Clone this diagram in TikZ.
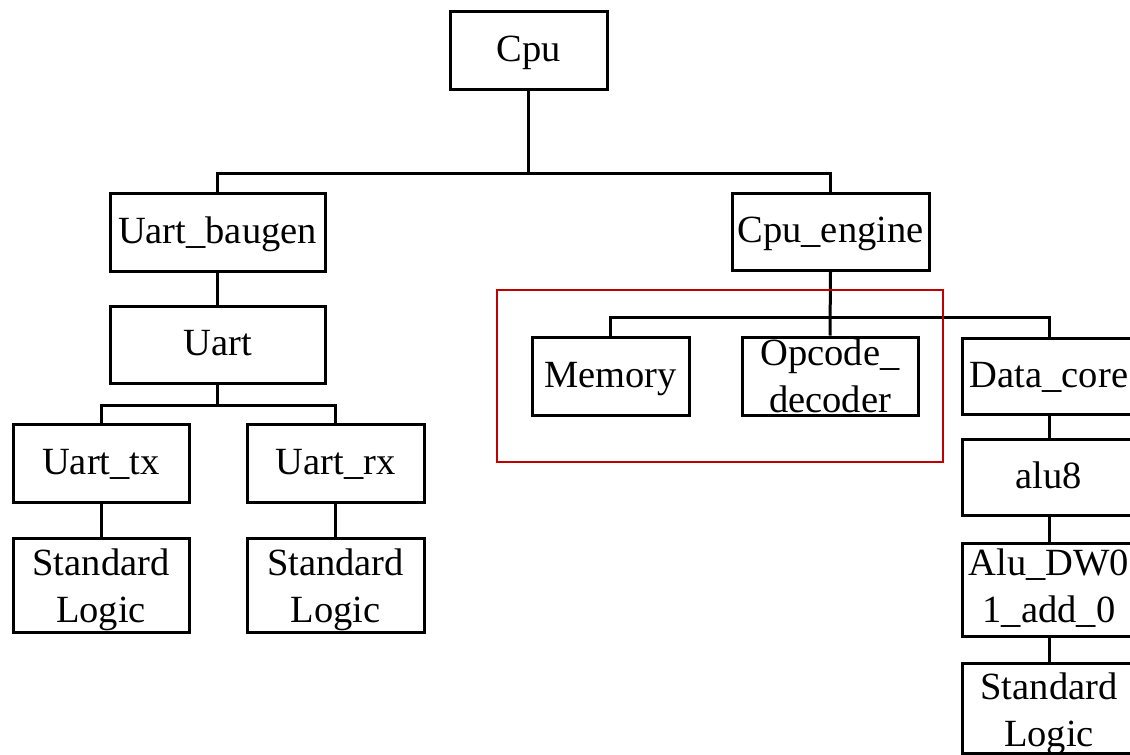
\documentclass[tikz,border=0pt]{standalone}
\usepackage{fontspec}
\setmainfont{Liberation Serif}
\definecolor{groupred}{RGB}{192,0,0}
\begin{document}
\begin{tikzpicture}[x=1pt,y=-1pt,
  blocktext/.style={inner sep=0pt,align=center,font=\fontsize{38.5}{47}\selectfont},
  block/.style={draw,line width=3pt,rectangle,blocktext,text height=26.5pt,text depth=3.9pt},
  twoline/.style 2 args={label={[blocktext,yshift=#2]center:#1}},
  link/.style={line width=3pt},
  groupframe/.style={draw=groupred,line width=2.5pt}]
\useasboundingbox (0,0) rectangle (1130,755);
\clip (0,0) rectangle (1130,755);

% hierarchy blocks
\node[block,minimum width=157pt,minimum height=78pt] (cpu) at (528.5,50) {Cpu};
\node[block,minimum width=215pt,minimum height=78pt] (baugen) at (217.5,232) {Uart\_baugen};
\node[block,minimum width=215pt,minimum height=77pt] (uart) at (217.5,344.5) {Uart};
\node[block,minimum width=176pt,minimum height=78pt] (tx) at (101,463) {Uart\_tx};
\node[block,minimum width=177pt,minimum height=78pt] (rx) at (335.5,463) {Uart\_rx};
\node[block,minimum width=176pt,minimum height=94pt,twoline={Standard\\Logic}{-4.5pt}] (sl1) at (101,585) {};
\node[block,minimum width=177pt,minimum height=94pt,twoline={Standard\\Logic}{-4.5pt}] (sl2) at (335.5,585) {};
\node[block,minimum width=197pt,minimum height=77pt] (engine) at (830.5,231.5) {Cpu\_engine};
\node[block,minimum width=157pt,minimum height=78pt] (memory) at (610.5,376) {Memory};
\node[block,minimum width=176pt,minimum height=78pt,twoline={Opcode\_\\decoder}{0.5pt}] (opcode) at (830,376) {};
\node[block,minimum width=174pt,minimum height=76pt] (datacore) at (1049,376) {Data\_core};
\node[block,minimum width=174pt,minimum height=76pt] (alu8) at (1049,477) {alu8};
\node[block,minimum width=174pt,minimum height=93pt,twoline={Alu\_DW0\\1\_add\_0}{1.5pt}] (aludw) at (1049,589.5) {};
\node[block,minimum width=174pt,minimum height=90pt,twoline={Standard\\Logic}{-6pt}] (sl3) at (1049,708) {};

% bus junctions
\coordinate (j0) at (528.5,173.5);
\coordinate (j1) at (217.5,405);
\coordinate (j2) at (830,317);

% connectors
\draw[link] (cpu.south) -- (j0);
\draw[link] (baugen.north) |- (j0) -| (engine.north);
\draw[link] (baugen.south) -- (uart.north);
\draw[link] (uart.south) -- (j1);
\draw[link] (tx.north) |- (j1) -| (rx.north);
\draw[link] (tx.south) -- (sl1.north);
\draw[link] (rx.south) -- (sl2.north);
\draw[link] (engine.south) -- (opcode.north);
\draw[link] (memory.north) |- (j2) -| (datacore.north);
\draw[link] (datacore.south) -- (alu8.north);
\draw[link] (alu8.south) -- (aludw.north);
\draw[link] (aludw.south) -- (sl3.north);

% highlighted group
\node[groupframe,inner sep=0pt,minimum width=446pt,minimum height=172pt] (group) at (720,376) {};
\end{tikzpicture}
\end{document}
